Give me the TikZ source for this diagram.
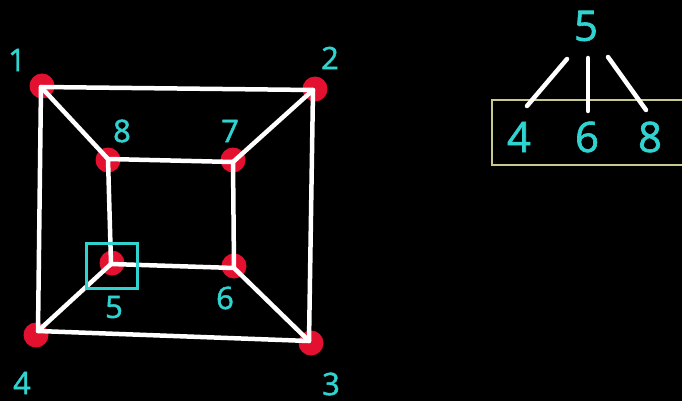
\documentclass[tikz,border=0pt]{standalone}
\usepackage{fontspec}
\setmainfont{Open Sans}[FakeBold=1.5]
\definecolor{cy}{HTML}{2FD3D0}
\definecolor{rd}{HTML}{E3102F}
\definecolor{yl}{HTML}{C9C98F}
\tikzset{
  dot/.style={circle,fill=rd,minimum size=25pt,inner sep=0pt},
  wl/.style={white,line width=4.5pt,line join=round,line cap=round},
  lab/.style={text=cy,inner sep=0pt,font=\fontsize{31}{31}\selectfont},
  biglab/.style={text=cy,inner sep=0pt,font=\fontsize{42}{42}\selectfont},
}
\begin{document}
\begin{tikzpicture}[x=1pt,y=-1pt]
\fill[black] (0,0) rectangle (682,401);
\useasboundingbox (0,0) rectangle (682,401);
% red dots
\node[dot] (d1) at (42,86) {};
\node[dot] (d2) at (315,89) {};
\node[dot] (d3) at (311,343) {};
\node[dot] (d4) at (36,335) {};
\node[dot] (d5) at (112,263) {};
\node[dot] (d6) at (234,266) {};
\node[dot] (d7) at (233,160) {};
\node[dot] (d8) at (108,160) {};
% vertices
\coordinate (v1) at (41,87);
\coordinate (v2) at (313,90);
\coordinate (v3) at (309,341);
\coordinate (v4) at (38,331);
\coordinate (v5) at (111,264);
\coordinate (v6) at (234,268);
\coordinate (v7) at (233,162);
\coordinate (v8) at (108,159);
\draw[wl] (v1) -- (v2) -- (v3) -- (v4) -- cycle;
\draw[wl] (v8) -- (v7) -- (v6) -- (v5) -- cycle;
\draw[wl] (v1) -- (v8);
\draw[wl] (v2) -- (v7);
\draw[wl] (v3) -- (v6);
\draw[wl] (v4) -- (v5);
% highlight box
\draw[cy,line width=3pt] (86,243) rectangle (137,288);
% labels
\node[lab] (l1) at (17,60) {1};
\node[lab] (l2) at (330,58) {2};
\node[lab] (l3) at (331,384) {3};
\node[lab] (l4) at (22,383) {4};
\node[lab] (l5) at (114,307) {5};
\node[lab] (l6) at (225,298) {6};
\node[lab] (l7) at (230,131) {7};
\node[lab] (l8) at (122,131) {8};
% right tree
\draw[yl,line width=2pt] (692,100) -- (492,100) -- (492,165) -- (692,165);
\node[biglab] (t5) at (586,26) {5};
\node[biglab] (t4) at (519,137) {4};
\node[biglab] (t6) at (587,137) {6};
\node[biglab] (t8) at (650,137) {8};
\coordinate (a4) at (567,59);
\coordinate (b4) at (527,106);
\coordinate (a6) at (588,58);
\coordinate (b6) at (588,111);
\coordinate (a8) at (608,57);
\coordinate (b8) at (646,110);
\draw[wl] (a4) -- (b4);
\draw[wl] (a6) -- (b6);
\draw[wl] (a8) -- (b8);
\end{tikzpicture}
\end{document}
